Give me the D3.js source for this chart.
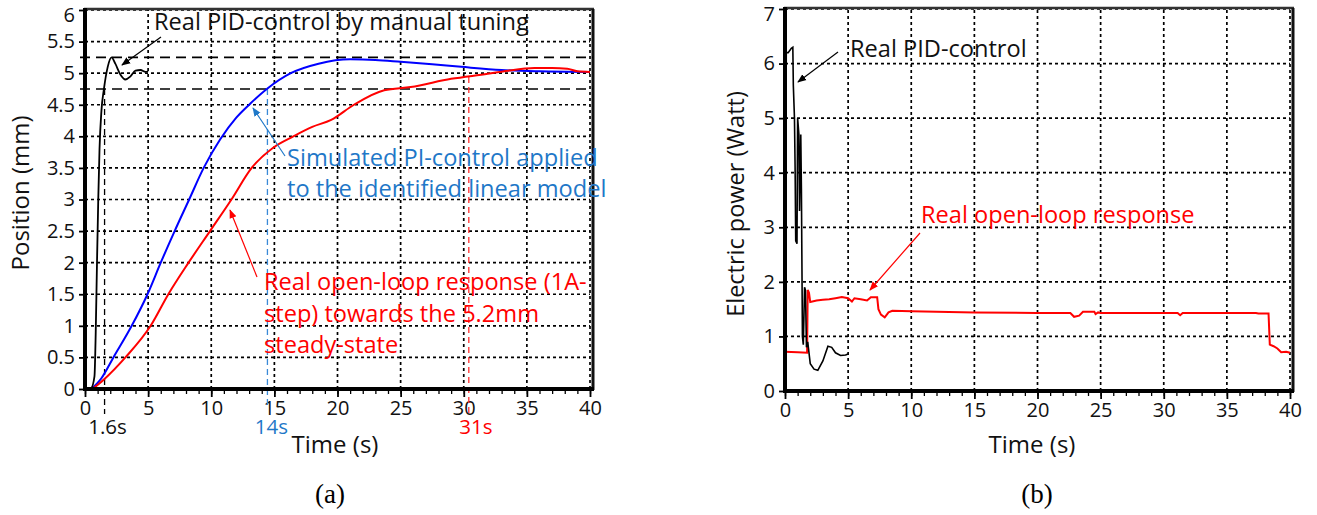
<!DOCTYPE html>
<html><head><meta charset="utf-8">
<script src="https://cdn.jsdelivr.net/npm/d3@7"></script>
<style>
html,body{margin:0;padding:0;background:#fff;}
svg{display:block;}
text{font-family:"Open Sans",Lato,sans-serif;}
text.serif{font-family:"Liberation Serif","DejaVu Serif",serif;}
</style></head>
<body>
<svg id="chart" width="1317" height="515"></svg>
<script>
// ---------- DATA ----------
// (a) Position (mm) vs time (s)
const pidPosT = [0, 0.5, 0.75, 0.85, 0.95, 1.05, 1.15, 1.3, 1.5, 1.8, 2.1, 2.4, 2.8, 3.2, 3.6, 4.0, 4.4, 4.8, 5.0];
const pidPosV = [0, 0.02, 0.2, 0.9, 2.0, 3.0, 3.8, 4.4, 4.75, 5.1, 5.25, 5.15, 4.98, 4.9, 4.95, 5.04, 5.05, 5.02, 5.03];
const simPosT = [0.5, 1.3, 2.25, 3.7, 4.95, 6.0, 7.1, 8.25, 9.4, 10.7, 12.0, 13.1, 14.4, 16.3, 18.5, 21.0, 23.0, 25.0, 27.5, 29.8, 33.0, 36.0, 40.0];
const simPosV = [0, 0.17, 0.5, 1.0, 1.5, 2.0, 2.5, 3.0, 3.5, 3.95, 4.3, 4.52, 4.75, 5.0, 5.15, 5.22, 5.21, 5.18, 5.14, 5.1, 5.05, 5.03, 5.02];
const olPosT = [0.6, 1.5, 3.2, 5.2, 6.6, 8.2, 9.9, 11.6, 13.2, 14.9, 16.5, 18.0, 19.5, 21.3, 23.7, 25.8, 29.0, 31.9, 33.5, 35.6, 37.0, 38.2, 39.0, 40.0];
const olPosV = [0, 0.15, 0.5, 1.0, 1.5, 2.0, 2.5, 3.0, 3.5, 3.82, 4.0, 4.15, 4.26, 4.5, 4.73, 4.78, 4.91, 4.99, 5.04, 5.08, 5.08, 5.07, 5.03, 5.02];
const bandLevels = [5.25, 4.75];
const markerTimes = [1.55, 14.45, 30.4];
const markerLabels = ["1.6s", "14s", "31s"];
const markerTops = [4.75, 4.75, 4.94];

// (b) Electric power (Watt) vs time (s)
const pidPowT = [0.0, 0.1, 0.25, 0.5, 0.62, 0.66, 0.75, 0.8, 0.85, 0.95, 1.0, 1.1, 1.15, 1.25, 1.3, 1.38, 1.45, 1.55, 1.62, 1.7, 1.8, 2.0, 2.3, 2.6, 3.0, 3.4, 3.7, 4.0, 4.4, 4.8, 5.0];
const pidPowV = [0.7, 6.2, 6.2, 6.28, 6.3, 5.6, 5.0, 4.1, 2.75, 2.7, 5.0, 4.7, 3.3, 4.7, 3.7, 1.0, 0.85, 1.9, 1.85, 0.8, 0.9, 0.5, 0.4, 0.38, 0.55, 0.82, 0.8, 0.7, 0.65, 0.66, 0.68];
const olPowT = [0, 1.0, 1.75, 1.8, 1.9, 2.0, 2.5, 3.0, 3.5, 4.0, 4.5, 5.0, 5.3, 5.5, 6.0, 6.5, 6.8, 7.3, 7.4, 7.6, 7.9, 8.2, 8.5, 10, 12, 15, 20, 22.6, 22.9, 23.3, 23.6, 24.5, 24.6, 24.8, 25, 30, 31.1, 31.3, 31.5, 35, 37.3, 37.5, 38.3, 38.4, 38.7, 39.0, 39.3, 39.7, 40];
const olPowV = [0.72, 0.71, 0.7, 1.85, 1.8, 1.63, 1.66, 1.67, 1.68, 1.7, 1.72, 1.7, 1.64, 1.7, 1.68, 1.66, 1.72, 1.72, 1.5, 1.4, 1.35, 1.44, 1.47, 1.46, 1.45, 1.44, 1.43, 1.43, 1.36, 1.38, 1.45, 1.45, 1.41, 1.44, 1.43, 1.43, 1.43, 1.39, 1.43, 1.43, 1.43, 1.42, 1.42, 0.85, 0.82, 0.78, 0.71, 0.72, 0.70];

const xTicks = [0, 5, 10, 15, 20, 25, 30, 35, 40];
const xMinorTicks = d3.range(0, 41, 1);
const yTicksA = [0, 0.5, 1, 1.5, 2, 2.5, 3, 3.5, 4, 4.5, 5, 5.5, 6];
const yTicksB = [0, 1, 2, 3, 4, 5, 6, 7];

// ---------- DRAW ----------
const svg = d3.select("#chart");
const BLUE_TXT = "#1f78c8";
const ANN = 23.6;
const TICK = 20;
const TITLE = 24;

const defs = svg.append("defs");
function marker(id, color) {
  defs.append("marker").attr("id", id).attr("viewBox", "0 0 10 10")
    .attr("refX", 9).attr("refY", 5).attr("markerWidth", 9).attr("markerHeight", 9)
    .attr("markerUnits", "userSpaceOnUse").attr("orient", "auto")
    .append("path").attr("d", "M0,1 L10,5 L0,9 Z").attr("fill", color);
}
marker("arrK", "#000"); marker("arrR", "#ff0000"); marker("arrB", BLUE_TXT);

function panel(cfg) {
  const g = svg.append("g");
  const x = d3.scaleLinear().domain([0, 40]).range(cfg.xr);
  const y = d3.scaleLinear().domain(cfg.yd).range(cfg.yr);

  // grid
  g.append("g").selectAll("line").data(xTicks.slice(1)).join("line")
    .attr("x1", d => x(d)).attr("x2", d => x(d)).attr("y1", cfg.yr[0]).attr("y2", cfg.yr[1])
    .attr("stroke", "#000").attr("stroke-width", 1.7).attr("stroke-dasharray", "3,3");
  g.append("g").selectAll("line").data(cfg.yTicks.slice(1)).join("line")
    .attr("x1", cfg.xr[0]).attr("x2", cfg.xr[1]).attr("y1", d => y(d)).attr("y2", d => y(d))
    .attr("stroke", "#000").attr("stroke-width", 1.7).attr("stroke-dasharray", "3,3");

  // minor x ticks
  g.append("g").attr("transform", `translate(0,${cfg.yr[0]})`)
    .call(d3.axisBottom(x).tickValues(xMinorTicks).tickSize(5).tickFormat(""))
    .call(s => s.select(".domain").remove())
    .call(s => s.selectAll("line").attr("stroke-width", 1.3));
  // major x ticks
  const xa = g.append("g").attr("transform", `translate(0,${cfg.yr[0]})`)
    .call(d3.axisBottom(x).tickValues(xTicks).tickSize(8).tickPadding(4).tickFormat(d => String(d)));
  xa.select(".domain").remove();
  xa.selectAll("line").attr("stroke-width", 1.8);
  xa.selectAll("text").attr("font-size", TICK).attr("fill", "#111");

  const ya = g.append("g").attr("transform", `translate(${cfg.xr[0]},0)`)
    .call(d3.axisLeft(y).tickValues(cfg.yTicks).tickSize(6).tickPadding(4).tickFormat(d => String(d)));
  ya.select(".domain").remove();
  ya.selectAll("line").attr("stroke-width", 1.8);
  ya.selectAll("text").attr("font-size", TICK).attr("fill", "#111");
  // top label sits a little lower, as in the original figure
  ya.selectAll(".tick").filter(d => d === cfg.yd[1]).select("text").attr("dy", "0.55em");

  // frame
  g.append("line").attr("x1", cfg.xr[0] - 1).attr("x2", cfg.frameR + 1).attr("y1", cfg.frameT).attr("y2", cfg.frameT)
    .attr("stroke", "#333").attr("stroke-width", 2.5);
  g.append("line").attr("x1", cfg.frameR).attr("x2", cfg.frameR).attr("y1", cfg.frameT).attr("y2", cfg.yr[0] + 1)
    .attr("stroke", "#111").attr("stroke-width", 3);

  return {g, x, y};
}

function frameAxes(p, cfg) {
  p.g.append("line").attr("x1", cfg.xr[0]).attr("x2", cfg.xr[0]).attr("y1", cfg.frameT - 1).attr("y2", cfg.yr[0] + 2)
    .attr("stroke", "#000").attr("stroke-width", 4);
  p.g.append("line").attr("x1", cfg.xr[0] - 2).attr("x2", cfg.frameR + 1).attr("y1", cfg.yr[0]).attr("y2", cfg.yr[0])
    .attr("stroke", "#000").attr("stroke-width", 4);
}

// ----- Panel (a)
const cfgA = {xr: [85, 590], yd: [0, 6], yr: [389, 10], yTicks: yTicksA, frameR: 593, frameT: 9};
const A = panel(cfgA);
// band dashed lines
A.g.append("g").selectAll("line").data(bandLevels).join("line")
  .attr("x1", 80).attr("x2", 593).attr("y1", d => A.y(d)).attr("y2", d => A.y(d))
  .attr("stroke", "#000").attr("stroke-width", 1.6).attr("stroke-dasharray", "10,6");
// vertical markers
const markerColors = ["#000", "#3a8ad8", "#ff3030"];
const markerBottoms = [414, 408, 414];
A.g.append("g").selectAll("line").data(markerTimes).join("line")
  .attr("x1", d => A.x(d)).attr("x2", d => A.x(d))
  .attr("y1", (d, i) => A.y(markerTops[i])).attr("y2", (d, i) => markerBottoms[i])
  .attr("stroke", (d, i) => markerColors[i]).attr("stroke-width", 1.3).attr("stroke-dasharray", "6,4");
const markerTxtCol = ["#111", BLUE_TXT, "#ff0000"];
A.g.append("g").selectAll("text").data(markerTimes).join("text")
  .attr("x", (d, i) => A.x(d) + [3, 4, 7][i]).attr("y", 434)
  .attr("text-anchor", "middle").attr("font-size", 20.5)
  .attr("fill", (d, i) => markerTxtCol[i]).text((d, i) => markerLabels[i]);

const line = d3.line().curve(d3.curveMonotoneX);
const lineLin = d3.line();
function pts(p, T, V) { return T.map((t, i) => [p.x(t), p.y(V[i])]); }
A.g.append("path").attr("d", line(pts(A, simPosT, simPosV))).attr("fill", "none").attr("stroke", "#0000ff").attr("stroke-width", 2);
A.g.append("path").attr("d", line(pts(A, olPosT, olPosV))).attr("fill", "none").attr("stroke", "#ff0000").attr("stroke-width", 2);
A.g.append("path").attr("d", line(pts(A, pidPosT, pidPosV))).attr("fill", "none").attr("stroke", "#000").attr("stroke-width", 1.8);
frameAxes(A, cfgA);

// annotations (a)
A.g.append("text").attr("x", 154).attr("y", 30).attr("font-size", ANN).attr("fill", "#111").text("Real PID-control by manual tuning");
A.g.append("line").attr("x1", 161).attr("y1", 37).attr("x2", 122).attr("y2", 65).attr("stroke", "#000").attr("stroke-width", 1.2).attr("marker-end", "url(#arrK)");
A.g.append("text").attr("x", 287).attr("y", 166).attr("font-size", ANN).attr("fill", BLUE_TXT).text("Simulated PI-control applied");
A.g.append("text").attr("x", 287).attr("y", 197).attr("font-size", ANN).attr("fill", BLUE_TXT).text("to the identified linear model");
A.g.append("line").attr("x1", 285).attr("y1", 156).attr("x2", 253).attr("y2", 108).attr("stroke", BLUE_TXT).attr("stroke-width", 1.2).attr("marker-end", "url(#arrB)");
["Real open-loop response (1A-", "step) towards the 5.2mm", "steady-state"].forEach((s, i) => {
  A.g.append("text").attr("x", 264).attr("y", 290 + i * 31.5).attr("font-size", ANN).attr("fill", "#ff0000").text(s);
});
A.g.append("line").attr("x1", 257).attr("y1", 277).attr("x2", 230).attr("y2", 210).attr("stroke", "#ff0000").attr("stroke-width", 1.2).attr("marker-end", "url(#arrR)");
A.g.append("text").attr("x", 335).attr("y", 453).attr("text-anchor", "middle").attr("font-size", TITLE).attr("fill", "#111").text("Time (s)");
A.g.append("text").attr("transform", "translate(29,193) rotate(-90)").attr("text-anchor", "middle").attr("font-size", TITLE).attr("fill", "#111").text("Position (mm)");
A.g.append("text").attr("class", "serif").attr("x", 330).attr("y", 503).attr("text-anchor", "middle").attr("font-size", 27).attr("fill", "#000").text("(a)");

// ----- Panel (b)
const cfgB = {xr: [785, 1290], yd: [0, 7], yr: [391, 9], yTicks: yTicksB, frameR: 1293, frameT: 8};
const B = panel(cfgB);
B.g.append("path").attr("d", lineLin(pts(B, olPowT, olPowV))).attr("fill", "none").attr("stroke", "#ff0000").attr("stroke-width", 2);
B.g.append("path").attr("d", lineLin(pts(B, pidPowT, pidPowV))).attr("fill", "none").attr("stroke", "#000").attr("stroke-width", 1.6);
frameAxes(B, cfgB);
B.g.append("text").attr("x", 850).attr("y", 57).attr("font-size", ANN).attr("fill", "#111").text("Real PID-control");
B.g.append("line").attr("x1", 838).attr("y1", 52).attr("x2", 798).attr("y2", 82).attr("stroke", "#000").attr("stroke-width", 1.2).attr("marker-end", "url(#arrK)");
B.g.append("text").attr("x", 921).attr("y", 223).attr("font-size", ANN).attr("fill", "#ff0000").text("Real open-loop response");
B.g.append("line").attr("x1", 920).attr("y1", 233).attr("x2", 870).attr("y2", 290).attr("stroke", "#ff0000").attr("stroke-width", 1.2).attr("marker-end", "url(#arrR)");
B.g.append("text").attr("x", 1032).attr("y", 453).attr("text-anchor", "middle").attr("font-size", TITLE).attr("fill", "#111").text("Time (s)");
B.g.append("text").attr("transform", "translate(744,204) rotate(-90)").attr("text-anchor", "middle").attr("font-size", 23.5).attr("fill", "#111").text("Electric power (Watt)");
B.g.append("text").attr("class", "serif").attr("x", 1037).attr("y", 503).attr("text-anchor", "middle").attr("font-size", 27).attr("fill", "#000").text("(b)");
</script>
</body></html>
